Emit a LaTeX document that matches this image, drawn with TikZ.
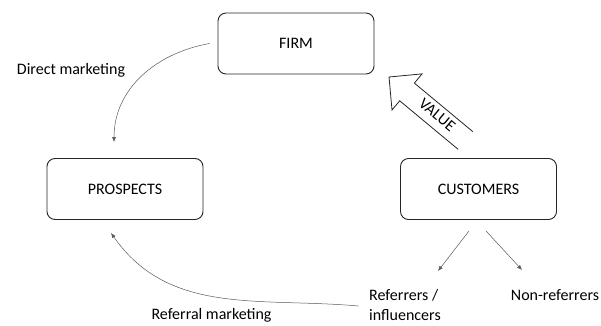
\documentclass[tikz,border=0pt]{standalone}
\usepackage{fontspec}
\setmainfont{Carlito}
\usetikzlibrary{arrows.meta}

\begin{document}
\begin{tikzpicture}[x=1pt,y=1pt,font=\fontsize{16}{20}\selectfont]
\tikzset{party/.style={draw=black!85,line width=0.9pt,rounded corners=8pt,minimum width=156pt,minimum height=61pt},
flow/.style={draw=black!65,line width=0.5pt,-{Latex[length=5pt,width=4pt]}}}
\useasboundingbox (0,0) rectangle (601,325);
\node[party] (firm) at (296,281.5) {FIRM};
\node[party] (prospects) at (125,136) {PROSPECTS};
\node[party] (customers) at (478.5,136) {CUSTOMERS};
\node (direct) at (71,255) {Direct marketing};
\node (referral) at (211.5,10) {Referral marketing};
\node[align=left] (referrers) at (405,20) {Referrers /\\influencers};
\node (nonref) at (555,30) {Non-referrers};
\coordinate (dm end) at ([xshift=-11pt,yshift=16pt]prospects.north);
\coordinate (rm end) at ([xshift=-14pt,yshift=-13pt]prospects.south);
\coordinate (ref top) at (438,54);
\coordinate (non top) at (522,55);
\draw[flow] ([xshift=-8pt]firm.west) to[out=190,in=90] (dm end);
\draw[flow] ([xshift=-7pt,yshift=-1pt]referrers.west) to[out=175,in=-55] (rm end);
\draw[flow] ([xshift=-9.5pt,yshift=-11pt]customers.south) -- (ref top);
\draw[flow] ([xshift=7.5pt,yshift=-11pt]customers.south) -- (non top);
% hollow arrow from customers up to the firm
\begin{scope}[shift={(465.5,184.5)},rotate=140.3]
\draw[black!85,line width=0.8pt] (0,-11.5) -- (76,-11.5) -- (76,-23.5) -- (99.4,0) -- (76,23.5) -- (76,11.5) -- (0,11.5);
\node[transform shape,rotate=180] (value) at (38,-1.5) {VALUE};
\end{scope}
\end{tikzpicture}
\end{document}
